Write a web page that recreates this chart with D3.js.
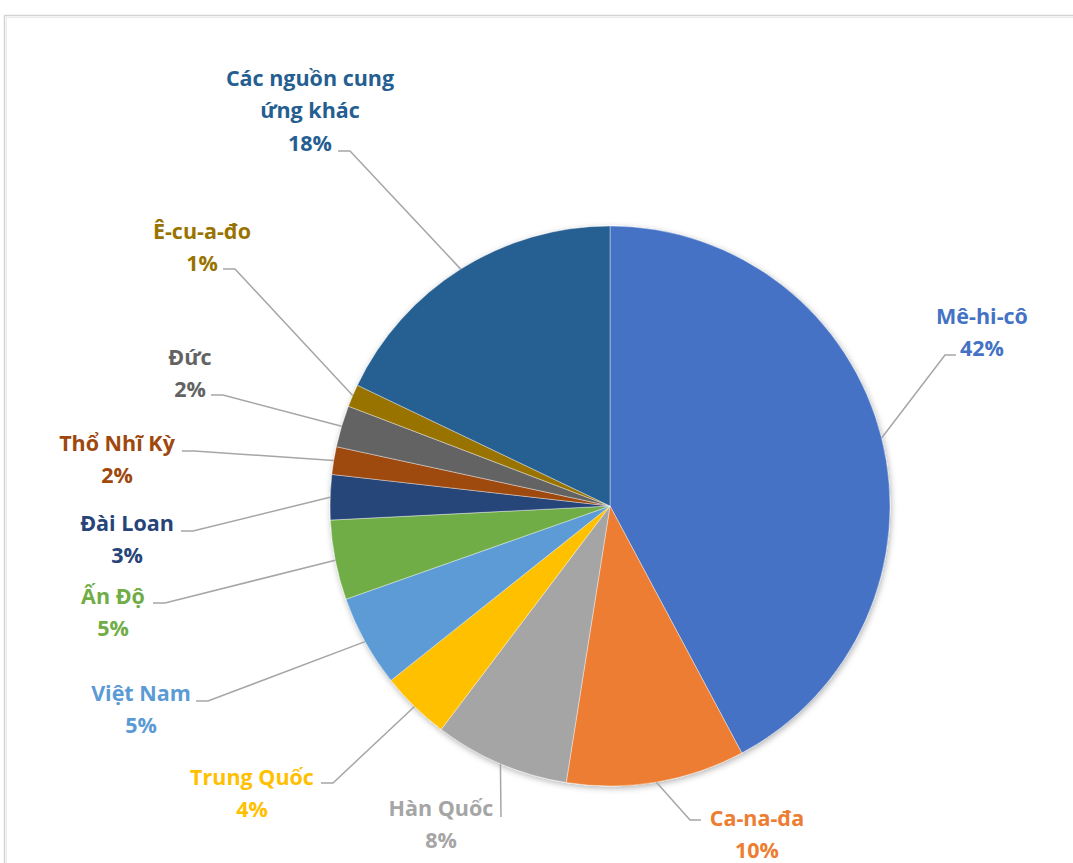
<!DOCTYPE html>
<html>
<head>
<meta charset="utf-8">
<script src="https://cdn.jsdelivr.net/npm/d3@7"></script>
<style>
  html, body { margin: 0; padding: 0; background: #ffffff; }
  svg { display: block; }
  text { font-family: "Open Sans", "Lato", sans-serif; font-weight: 700; }
</style>
</head>
<body>
<svg id="chart" width="1073" height="863"></svg>
<script>
// Import share by supplier (percent), clockwise from 12 o'clock
const categories = ["Mê-hi-cô", "Ca-na-đa", "Hàn Quốc", "Trung Quốc", "Việt Nam", "Ấn Độ",
                    "Đài Loan", "Thổ Nhĩ Kỳ", "Đức", "Ê-cu-a-đo", "Các nguồn cung ứng khác"];
const shares = [42.2, 10.3, 7.8, 4.0, 5.3, 4.6, 2.6, 1.6, 2.4, 1.3, 17.9];
const colors = ["#4472C4", "#ED7D31", "#A5A5A5", "#FFC000", "#5B9BD5", "#70AD47",
                "#264478", "#9E480E", "#636363", "#997300", "#255E91"];
// label line breaks
const labelLines = [["Mê-hi-cô"], ["Ca-na-đa"], ["Hàn Quốc"], ["Trung Quốc"], ["Việt Nam"], ["Ấn Độ"],
                    ["Đài Loan"], ["Thổ Nhĩ Kỳ"], ["Đức"], ["Ê-cu-a-đo"], ["Các nguồn cung", "ứng khác"]];

// Label placement: text centre (first line), leader elbow, horizontal tail direction
const labelLayout = [
  { x: 982, y: 316, ex: 945, ey: 355, dir: 1 },
  { x: 757, y: 818, ex: 690, ey: 820, dir: 1 },
  { x: 441, y: 808, ex: 501, ey: 817, dir: 0 },
  { x: 252, y: 777, ex: 333, ey: 783, dir: -1 },
  { x: 141, y: 693, ex: 208, ey: 701, dir: -1 },
  { x: 113, y: 596, ex: 165, ey: 603, dir: -1 },
  { x: 127, y: 523, ex: 193, ey: 531, dir: -1 },
  { x: 117, y: 443, ex: 194, ey: 451, dir: -1 },
  { x: 190, y: 357, ex: 223, ey: 395, dir: -1 },
  { x: 202, y: 231, ex: 235, ey: 269, dir: -1 },
  { x: 310, y: 78,  ex: 350, ey: 151, dir: -1 }
];

const svg = d3.select("#chart");
const cx = 610, cy = 506, radius = 280;
const lineH = 32.5;

// chart frame (top and left edges)
svg.append("line").attr("x1", 4).attr("y1", 15.5).attr("x2", 1073).attr("y2", 15.5)
  .attr("stroke", "#d4d4d4").attr("stroke-width", 1.5);
svg.append("line").attr("x1", 4.5).attr("y1", 15).attr("x2", 4.5).attr("y2", 863)
  .attr("stroke", "#d4d4d4").attr("stroke-width", 1.5);
svg.append("line").attr("x1", 6).attr("y1", 17.5).attr("x2", 1073).attr("y2", 17.5)
  .attr("stroke", "#ececec").attr("stroke-width", 1);
svg.append("line").attr("x1", 6.5).attr("y1", 17).attr("x2", 6.5).attr("y2", 863)
  .attr("stroke", "#ececec").attr("stroke-width", 1);

const defs = svg.append("defs");
const shadow = defs.append("filter").attr("id", "pieShadow")
  .attr("x", "-10%").attr("y", "-10%").attr("width", "120%").attr("height", "120%");
shadow.append("feDropShadow").attr("dx", 1).attr("dy", 2).attr("stdDeviation", 3)
  .attr("flood-color", "#000").attr("flood-opacity", 0.3);

const data = categories.map((c, i) => ({ name: c, value: shares[i], color: colors[i],
  lines: labelLines[i], layout: labelLayout[i] }));
const total = d3.sum(shares);

const pie = d3.pie().value(d => d.value).sort(null);
const arcs = pie(data);
const arc = d3.arc().innerRadius(0).outerRadius(radius);

const g = svg.append("g").attr("transform", `translate(${cx},${cy})`);
const slices = g.append("g").attr("filter", "url(#pieShadow)");
slices.selectAll("path").data(arcs).join("path")
  .attr("d", arc)
  .attr("fill", d => d.data.color)
  .attr("stroke", "#ffffff").attr("stroke-width", 0.4);

// leader lines from slice edge midpoint to the label
const edge = d3.arc().innerRadius(radius).outerRadius(radius);
const pct = d3.format(".0%");
const leaders = svg.append("g");
arcs.forEach(a => {
  const [px, py] = edge.centroid(a);
  const L = a.data.layout;
  const pts = [[cx + px, cy + py], [L.ex, L.ey]];
  if (L.dir !== 0) pts.push([L.ex + (L.dir > 0 ? 11 : -12), L.ey]);
  leaders.append("path")
    .attr("d", d3.line()(pts))
    .attr("fill", "none").attr("stroke", "#a6a6a6").attr("stroke-width", 1.5);
});

// labels: name lines followed by percentage
const labels = svg.append("g");
arcs.forEach(a => {
  const d = a.data, L = d.layout;
  const rows = d.lines.concat([pct(d.value / total)]);
  const t = labels.append("text")
    .attr("text-anchor", "middle")
    .attr("fill", d.color)
    .attr("font-size", 21.5);
  rows.forEach((r, i) => {
    t.append("tspan").attr("x", L.x).attr("y", L.y + i * lineH).attr("dy", "0.35em").text(r);
  });
});
</script>
</body>
</html>
